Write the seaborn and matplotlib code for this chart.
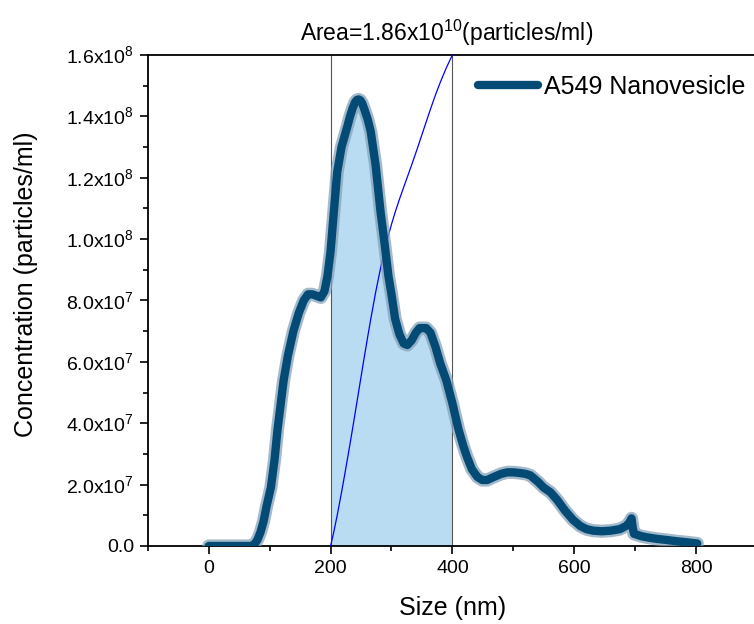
import numpy as np
import pandas as pd
import matplotlib
matplotlib.use("Agg")
import matplotlib.pyplot as plt
import seaborn as sns
from matplotlib.ticker import MultipleLocator, FuncFormatter

size_nm = [0, 20, 40, 60, 70, 75, 80, 85, 90, 95, 102, 108, 113, 118, 123, 130, 139, 148, 156, 163,
           170, 177, 184, 190, 195, 200, 205, 211, 218, 223, 228, 232, 236, 240, 243, 246, 249, 252,
           256, 261, 266, 274, 282,
           289, 295, 300, 306, 313, 320, 326, 333, 340, 346, 351, 357, 364, 372, 380, 390, 400, 410,
           418, 424, 432, 441, 449, 457, 468, 480, 490, 500, 510, 520, 528, 540, 550, 561, 572, 585,
           598, 610, 620, 631, 645, 660, 675, 685, 690, 694, 696, 698, 710, 720, 736, 750, 770, 785, 802]
conc_e7 = [0, 0, 0, 0, 0, 0.05, 0.2, 0.45, 0.8, 1.3, 1.9, 2.8, 3.8, 4.6, 5.4, 6.2, 7.0, 7.6, 8.0, 8.2,
           8.2, 8.15, 8.1, 8.3, 8.8, 9.6, 10.8, 12.2, 13.0, 13.35, 13.7, 14.0, 14.25, 14.45, 14.53, 14.55, 14.52, 14.42,
           14.2, 13.9, 13.5, 12.4, 10.9,
           9.8, 8.8, 8.2, 7.4, 6.9, 6.6, 6.55, 6.7, 6.95, 7.1, 7.1, 7.1, 6.95, 6.5, 5.95, 5.4, 4.65, 3.8,
           3.25, 2.9, 2.5, 2.25, 2.15, 2.15, 2.25, 2.35, 2.4, 2.4, 2.38, 2.35, 2.3, 2.1, 1.9, 1.75, 1.5, 1.15,
           0.85, 0.65, 0.55, 0.5, 0.48, 0.5, 0.55, 0.65, 0.75, 0.9, 0.6, 0.4, 0.32, 0.28, 0.23, 0.2, 0.15, 0.12, 0.08]
area_lo, area_hi = 200, 400
title_text = "Area=1.86x10$^{10}$(particles/ml)"
series_name = "A549 Nanovesicle"

df = pd.DataFrame({"size": size_nm, "conc": np.array(conc_e7) * 1e7})

sns.set_theme(style="ticks")
plt.rcParams["font.family"] = ["Liberation Sans", "DejaVu Sans"]
plt.rcParams["mathtext.fontset"] = "custom"
plt.rcParams["mathtext.rm"] = "Liberation Sans"
plt.rcParams["text.color"] = "black"
plt.rcParams["axes.labelcolor"] = "black"

fig = plt.figure(figsize=(7.54, 6.24), dpi=100)
ax = fig.add_axes([0.196, 0.125, 0.808, 0.787])

# shaded area
sel = df[(df["size"] >= area_lo) & (df["size"] <= area_hi)]
ax.fill_between(sel["size"], 0, sel["conc"], color="#b9dcf2", lw=0, zorder=1)
ax.axvline(area_lo, color="#555555", lw=0.8, zorder=2)
ax.axvline(area_hi, color="#555555", lw=0.8, zorder=2)

# cumulative integral line, scaled to axis height
xs = sel["size"].to_numpy()
ys = sel["conc"].to_numpy()
cum = np.concatenate([[0], np.cumsum((ys[1:] + ys[:-1]) / 2 * np.diff(xs))])
cum = cum / cum[-1] * 1.6e8
ax.plot(xs, cum, color="#0000ff", lw=0.9, zorder=3)

# halo then main line
ax.plot(df["size"], df["conc"], color="#86a3ba", lw=9.5, alpha=0.75, zorder=4,
        solid_capstyle="round", solid_joinstyle="round")
sns.lineplot(data=df, x="size", y="conc", ax=ax, color="#034a75", lw=6, zorder=5,
             label=series_name, estimator=None, sort=False)
for ln in ax.get_lines()[-1:]:
    ln.set_solid_capstyle("round")
    ln.set_solid_joinstyle("round")

ax.set_xlim(-100, 900)
ax.set_ylim(0, 1.6e8)
ax.xaxis.set_major_locator(MultipleLocator(200))
ax.xaxis.set_minor_locator(MultipleLocator(100))
ax.yaxis.set_major_locator(MultipleLocator(2e7))
ax.yaxis.set_minor_locator(MultipleLocator(1e7))

def yfmt(v, pos):
    if v <= 1:
        return "0.0"
    e = int(np.floor(np.log10(v)))
    m = v / 10 ** e
    return f"{m:.1f}x10$^{{{e}}}$"

ax.yaxis.set_major_formatter(FuncFormatter(yfmt))
ax.tick_params(axis="both", which="major", direction="out", length=6, width=1.2,
               labelsize=14, colors="black", pad=4)
ax.tick_params(axis="both", which="minor", direction="out", length=3.5, width=1.2, colors="black")
for s in ["left", "bottom", "top"]:
    ax.spines[s].set_linewidth(1.3)
    ax.spines[s].set_color("black")
ax.spines["right"].set_visible(False)

ax.set_xlabel("Size (nm)", fontsize=18, labelpad=14)
ax.set_ylabel("Concentration (particles/ml)", fontsize=18)
ax.yaxis.set_label_coords(-0.181, 0.534)
ax.set_title(title_text, fontsize=16.5, pad=10, x=0.49)

leg = ax.legend(loc="upper right", frameon=False, fontsize=18, handlelength=2.4,
                handletextpad=0.25, bbox_to_anchor=(1.01, 0.995), borderaxespad=0.3)
for h in leg.get_lines():
    h.set_linewidth(6)
    h.set_solid_capstyle("round")

fig.savefig("out.png", dpi=100)
